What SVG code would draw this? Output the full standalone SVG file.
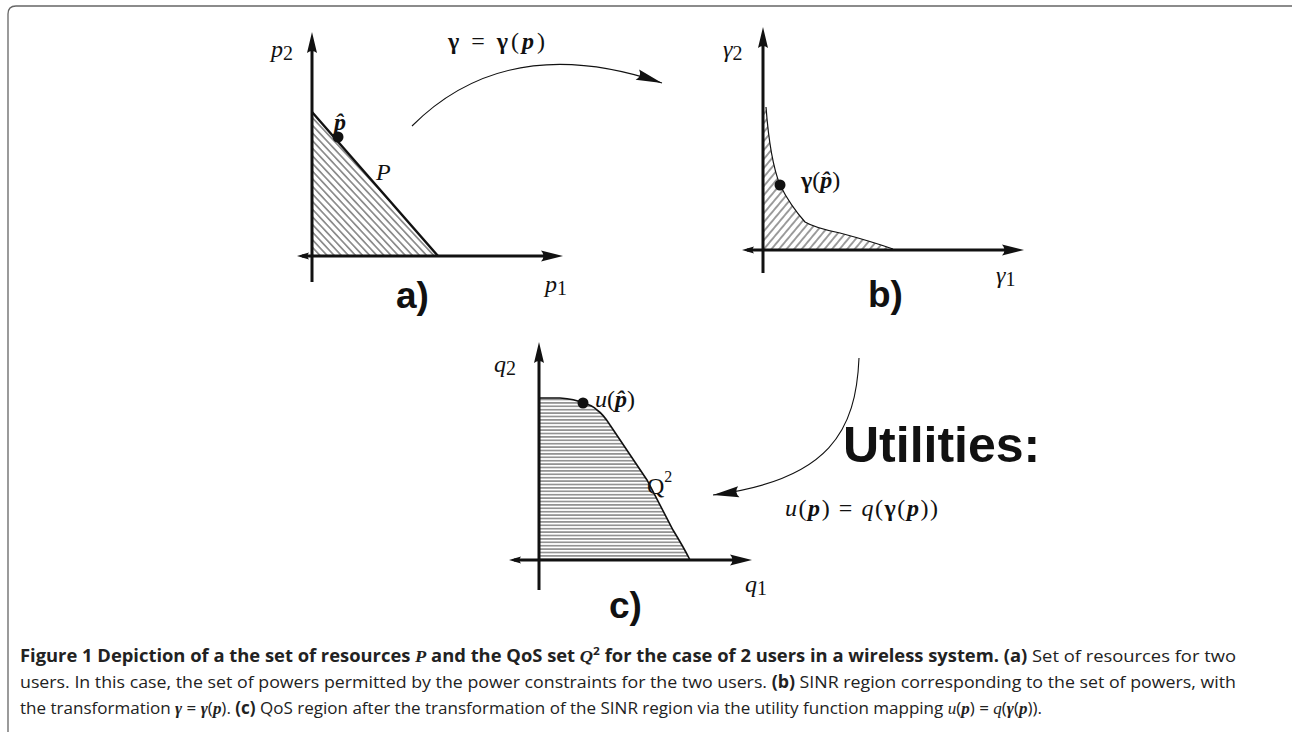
<svg xmlns="http://www.w3.org/2000/svg" width="1292" height="732" viewBox="0 0 1292 732">
<style>
.ax{stroke:#111;stroke-width:3;fill:none}
.ah{fill:#111;stroke:none}
.bd{stroke:#111;fill:none}
.dot{fill:#111}
.m{font-family:"Liberation Serif","DejaVu Serif",serif;font-size:24px;fill:#111}
.mi{font-style:italic}
.bi{font-style:italic;font-weight:bold}
.bf{font-weight:bold}
.lbl{font-family:"Liberation Sans",Arial,sans-serif;font-weight:bold;font-size:37px;fill:#111}
.cap{font-family:"Open Sans","Noto Sans",sans-serif;font-size:17px;fill:#222}
.cal{font-family:"Liberation Serif",serif;font-style:italic}
.conn{stroke:#111;stroke-width:1.1;fill:none}
</style>
<defs>
<pattern id="hA" patternUnits="userSpaceOnUse" width="10" height="5.2" patternTransform="rotate(47)"><line x1="0" y1="2.6" x2="10" y2="2.6" stroke="#222" stroke-width="0.9"/></pattern>
<pattern id="hB" patternUnits="userSpaceOnUse" width="10" height="5.8" patternTransform="rotate(-50)"><line x1="0" y1="2.9" x2="10" y2="2.9" stroke="#222" stroke-width="0.9"/></pattern>
<pattern id="hC" patternUnits="userSpaceOnUse" width="10" height="3.4"><line x1="0" y1="1.7" x2="10" y2="1.7" stroke="#333" stroke-width="0.9"/></pattern>
<marker id="arr" viewBox="-28 -8 30 16" refX="0" refY="0" markerWidth="30" markerHeight="16" markerUnits="userSpaceOnUse" orient="auto"><path d="M0,0 L-26,-5.5 Q-21,0 -26,5.5 Z" fill="#111"/></marker>
</defs>

<path d="M1292,6 H16 Q8,6 8,14 V732" fill="none" stroke="#666" stroke-width="1.3"/>

<g id="panel-a">
<path d="M312,112 L438,256 L312,256 Z" fill="url(#hA)"/>
<path d="M312,112 L438,256" class="bd" stroke-width="2.4"/>
<line x1="312" y1="45" x2="312" y2="282" class="ax"/>
<path d="M312,32 L317,53 Q312,49 307,53 Z" class="ah"/>
<line x1="302" y1="256" x2="550" y2="256" class="ax"/>
<path d="M297,256 L309,252.5 Q306,256 309,259.5 Z" class="ah"/>
<path d="M563,256 L541,250.5 Q546,256 541,261.5 Z" class="ah"/>
<circle cx="338" cy="137" r="5.5" class="dot"/>
<text x="271" y="57" class="m mi">p<tspan font-style="normal" font-size="20" dy="3">2</tspan></text>
<text x="334" y="130" class="m bi">p̂</text>
<text x="376" y="180" class="m cal">P</text>
<text x="545" y="292" class="m mi">p<tspan font-style="normal" font-size="20" dy="3">1</tspan></text>
<text x="396" y="308" class="lbl">a)</text>
</g>

<g id="panel-b">
<path d="M766,107 Q770,160 780,185 Q790,205 805,222 Q815,228 840,233 Q870,241 893,249 L763,250 L763,107 Z" fill="url(#hB)"/>
<path d="M766,107 Q770,160 780,185 Q790,205 805,222 Q815,228 840,233 Q870,241 893,249" class="bd" stroke-width="1.2"/>
<line x1="763" y1="40" x2="763" y2="273" class="ax"/>
<path d="M763,27 L768,48 Q763,44 758,48 Z" class="ah"/>
<line x1="747" y1="250" x2="1010" y2="250" class="ax"/>
<path d="M742,250 L754,246.5 Q751,250 754,253.5 Z" class="ah"/>
<path d="M1024,250 L1002,244.5 Q1007,250 1002,255.5 Z" class="ah"/>
<circle cx="780" cy="185" r="5.5" class="dot"/>
<text x="723" y="57" class="m mi">γ<tspan font-style="normal" font-size="20" dy="3">2</tspan></text>
<text x="801" y="188" class="m"><tspan class="bf">γ</tspan>(<tspan class="bi">p̂</tspan>)</text>
<text x="996" y="283" class="m mi">γ<tspan font-style="normal" font-size="20" dy="3">1</tspan></text>
<text x="868" y="307" class="lbl">b)</text>
</g>

<g id="panel-c">
<path d="M539,398 L560,398 Q575,399 583,403 Q592,405 597,410 Q603,414 610,425 L647,480 L673,530 Q684,548 690,560 L539,560 Z" fill="url(#hC)"/>
<path d="M539,398 L560,398 Q575,399 583,403 Q592,405 597,410 Q603,414 610,425 L647,480 L673,530 Q684,548 690,560" class="bd" stroke-width="1.6"/>
<line x1="539" y1="355" x2="539" y2="590" class="ax"/>
<path d="M539,342 L544,363 Q539,359 534,363 Z" class="ah"/>
<line x1="514" y1="560" x2="740" y2="560" class="ax"/>
<path d="M509,560 L521,556.5 Q518,560 521,563.5 Z" class="ah"/>
<path d="M752,560 L730,554.5 Q735,560 730,565.5 Z" class="ah"/>
<circle cx="583" cy="403" r="5.5" class="dot"/>
<text x="494" y="372" class="m mi">q<tspan font-style="normal" font-size="20" dy="3">2</tspan></text>
<text x="595" y="407" class="m"><tspan class="mi">u</tspan>(<tspan class="bi">p̂</tspan>)</text>
<text x="647" y="494" class="m">Q<tspan font-size="16" dy="-12">2</tspan></text>
<text x="745" y="592" class="m mi">q<tspan font-style="normal" font-size="20" dy="3">1</tspan></text>
<text x="609" y="618" class="lbl">c)</text>
</g>

<g id="connectors">
<path d="M412,126 C470,68 550,45 662,83" class="conn" marker-end="url(#arr)"/>
<path d="M859,358 C856,430 830,480 713,495" class="conn" marker-end="url(#arr)"/>
</g>

<g id="labels">
<text x="448" y="49" class="m" textLength="97" lengthAdjust="spacing"><tspan class="bf">γ</tspan> = <tspan class="bf">γ</tspan>(<tspan class="bi">p</tspan>)</text>
<text x="843" y="462" font-family="Liberation Sans,Arial,sans-serif" font-weight="bold" font-size="50" fill="#111">Utilities:</text>
<text x="785" y="516" class="m" textLength="153" lengthAdjust="spacing"><tspan class="mi">u</tspan>(<tspan class="bi">p</tspan>) = <tspan class="mi">q</tspan>(<tspan class="bf">γ</tspan>(<tspan class="bi">p</tspan>))</text>
</g>

<g id="caption" class="cap">
<text x="20" y="662" textLength="1216" lengthAdjust="spacingAndGlyphs"><tspan font-weight="bold">Figure 1 Depiction of a the set of resources <tspan class="cal">P</tspan> and the QoS set <tspan class="cal">Q</tspan><tspan font-size="11" dy="-7">2</tspan><tspan dy="7"> for the case of 2 users in a wireless system. (a)</tspan></tspan> Set of resources for two</text>
<text x="20" y="688" textLength="1216" lengthAdjust="spacingAndGlyphs">users. In this case, the set of powers permitted by the power constraints for the two users. <tspan font-weight="bold">(b)</tspan> SINR region corresponding to the set of powers, with</text>
<text x="20" y="714" textLength="1022" lengthAdjust="spacingAndGlyphs">the transformation <tspan class="cal" font-weight="bold">γ</tspan> = <tspan class="cal" font-weight="bold">γ</tspan>(<tspan class="cal" font-weight="bold">p</tspan>). <tspan font-weight="bold">(c)</tspan> QoS region after the transformation of the SINR region via the utility function mapping <tspan class="cal">u</tspan>(<tspan class="cal" font-weight="bold">p</tspan>) = <tspan class="cal">q</tspan>(<tspan class="cal" font-weight="bold">γ</tspan>(<tspan class="cal" font-weight="bold">p</tspan>)).</text>
</g>
</svg>
